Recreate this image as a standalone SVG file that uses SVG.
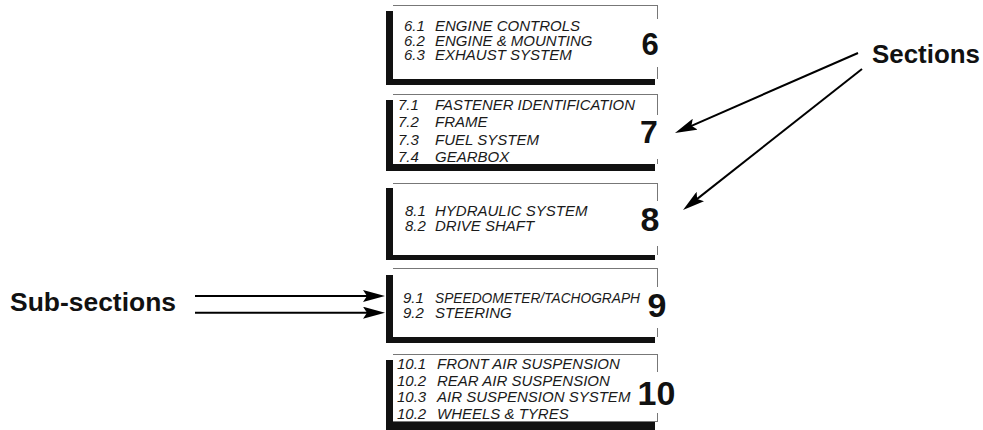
<svg xmlns="http://www.w3.org/2000/svg" width="983" height="430" viewBox="0 0 983 430">
<defs>
<style>
.sub{font-family:"Liberation Sans",Arial,sans-serif;font-style:italic;font-size:15px;fill:#1a1a1a}
.num{font-family:"Liberation Sans",Arial,sans-serif;font-weight:bold;fill:#111;text-anchor:middle}
.lbl{font-family:"Liberation Sans",Arial,sans-serif;font-weight:bold;font-size:25px;fill:#111}
.shadow{fill:#111}
.box{fill:#fff}
.edge{stroke:#777;stroke-width:1;fill:none}
.conn{stroke:#000;stroke-width:2;fill:none;marker-end:url(#ah)}
</style>
<marker id="ah" viewBox="0 0 22 12" refX="14" refY="6" markerWidth="22" markerHeight="12" markerUnits="userSpaceOnUse" orient="auto">
<path d="M0,0 L22,6 L0,12 L4,6 z" fill="#000"/>
</marker>
</defs>
<rect width="983" height="430" fill="#fff"/>

<g id="box6">
<rect class="shadow" x="386" y="11" width="269" height="74"/>
<rect class="box" x="393" y="5" width="264.5" height="74"/>
<path class="edge" d="M393,5.5 H657.5 M657.5,5 V19 M657.5,67 V79"/>
<text class="sub" x="404" y="31">6.1</text><text class="sub" x="435" y="31">ENGINE CONTROLS</text>
<text class="sub" x="404" y="45.5">6.2</text><text class="sub" x="435" y="45.5">ENGINE &amp; MOUNTING</text>
<text class="sub" x="404" y="60">6.3</text><text class="sub" x="435" y="60">EXHAUST SYSTEM</text>
<text class="num" x="650" y="55" font-size="31">6</text>
</g>

<g id="box7">
<rect class="shadow" x="386" y="100" width="269" height="71"/>
<rect class="box" x="393" y="94" width="264.5" height="70"/>
<path class="edge" d="M393,94.5 H657.5 M657.5,94 V115 M657.5,159 V164"/>
<text class="sub" x="398" y="110">7.1</text><text class="sub" x="435" y="110" textLength="200" lengthAdjust="spacingAndGlyphs">FASTENER IDENTIFICATION</text>
<text class="sub" x="398" y="127.3">7.2</text><text class="sub" x="435" y="127.3">FRAME</text>
<text class="sub" x="398" y="144.7">7.3</text><text class="sub" x="435" y="144.7">FUEL SYSTEM</text>
<text class="sub" x="398" y="162">7.4</text><text class="sub" x="435" y="162">GEARBOX</text>
<text class="num" x="649" y="143" font-size="32">7</text>
</g>

<g id="box8">
<rect class="shadow" x="386" y="188" width="269" height="72"/>
<rect class="box" x="393" y="183" width="264.5" height="72"/>
<path class="edge" d="M393,183.5 H657.5 M657.5,183 V201 M657.5,246 V255"/>
<text class="sub" x="405" y="216">8.1</text><text class="sub" x="435" y="216">HYDRAULIC SYSTEM</text>
<text class="sub" x="405" y="230.5">8.2</text><text class="sub" x="435" y="230.5">DRIVE SHAFT</text>
<text class="num" x="650" y="231" font-size="34">8</text>
</g>

<g id="box9">
<rect class="shadow" x="386" y="275" width="269" height="68"/>
<rect class="box" x="393" y="268" width="264.5" height="69"/>
<path class="edge" d="M393,268.5 H657.5 M657.5,268 V287 M657.5,328 V337"/>
<text class="sub" x="403" y="303">9.1</text><text class="sub" x="435" y="303" textLength="205" lengthAdjust="spacingAndGlyphs">SPEEDOMETER/TACHOGRAPH</text>
<text class="sub" x="403" y="317.5">9.2</text><text class="sub" x="435" y="317.5">STEERING</text>
<text class="num" x="657" y="317" font-size="34">9</text>
</g>

<g id="box10">
<rect class="shadow" x="386" y="360" width="269" height="70"/>
<rect class="box" x="393" y="354" width="264.5" height="68"/>
<path class="edge" d="M393,354.5 H657.5 M657.5,354 V372 M657.5,413 V422 M393,421.5 H657.5"/>
<text class="sub" x="397" y="369">10.1</text><text class="sub" x="437" y="369">FRONT AIR SUSPENSION</text>
<text class="sub" x="397" y="385.5">10.2</text><text class="sub" x="437" y="385.5">REAR AIR SUSPENSION</text>
<text class="sub" x="397" y="402">10.3</text><text class="sub" x="437" y="402">AIR SUSPENSION SYSTEM</text>
<text class="sub" x="397" y="418.5">10.2</text><text class="sub" x="437" y="418.5">WHEELS &amp; TYRES</text>
<text class="num" x="656.5" y="405" font-size="34">10</text>
</g>

<g id="label-sections">
<text class="lbl" x="872" y="63" textLength="108" lengthAdjust="spacingAndGlyphs">Sections</text>
</g>

<g id="label-subsections">
<text class="lbl" x="10" y="311" textLength="166" lengthAdjust="spacingAndGlyphs">Sub-sections</text>
</g>

<g id="connectors">
<line class="conn" x1="858" y1="53" x2="682.3" y2="129.8"/>
<line class="conn" x1="862" y1="69" x2="689.3" y2="205.1"/>
<line class="conn" x1="195" y1="296" x2="377" y2="296"/>
<line class="conn" x1="195" y1="312.7" x2="377" y2="312.7"/>
</g>
</svg>
